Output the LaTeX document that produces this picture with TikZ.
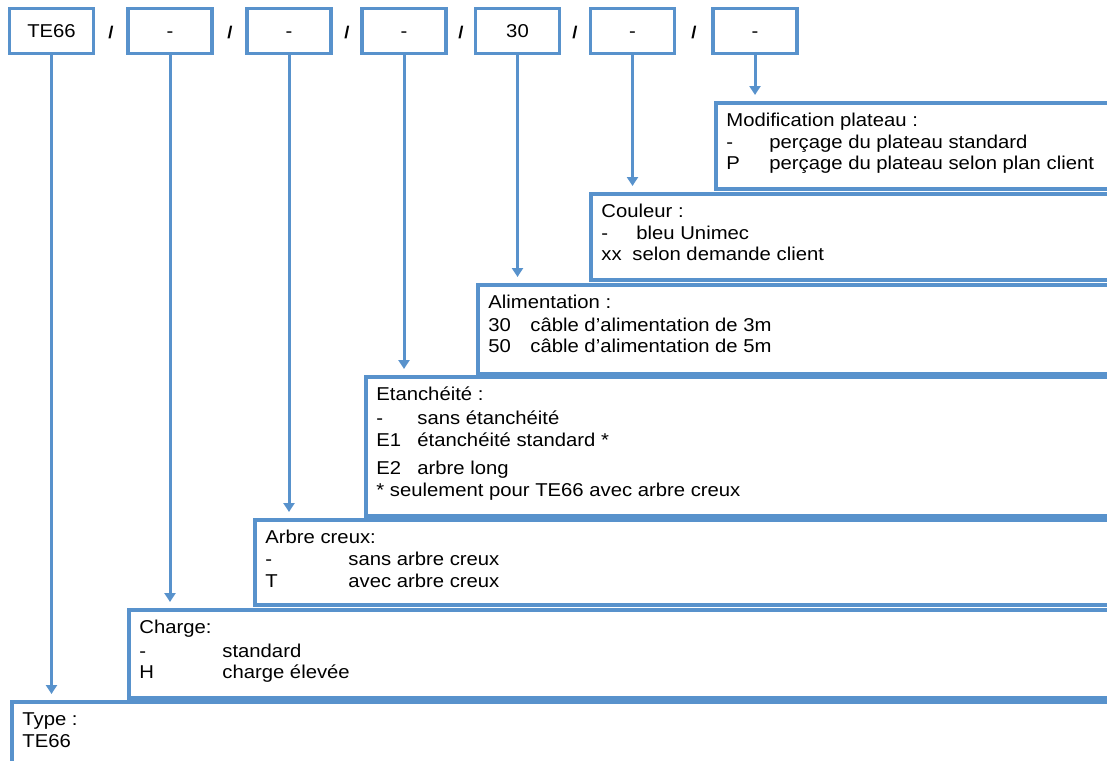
\documentclass[tikz,border=0pt]{standalone}
\usepackage{fontspec}
\setmainfont{Liberation Sans}[FakeStretch=1.09]
\usetikzlibrary{arrows.meta}

\definecolor{codeblue}{RGB}{88,146,204}
\newcommand{\optcode}[2][42pt]{\makebox[#1][l]{#2}}
\newcommand{\desctext}[2]{\parbox[t][#1][t]{1200pt}{\rule{0pt}{24pt}#2}}

\begin{document}
\begin{tikzpicture}[x=1pt, y=-1pt,
    font=\fontsize{18.6}{21.5}\selectfont,
    codebox/.style={draw=codeblue, line width=3.8pt, minimum width=84pt, minimum height=45pt, inner sep=0pt, text height=13.6pt, text depth=0pt},
    descbox/.style={draw=codeblue, line width=3.8pt, anchor=north west, inner xsep=10.5pt, inner ysep=0pt},
    sep/.style={anchor=base, font=\fontsize{17}{19}\selectfont\bfseries},
    link/.style={draw=codeblue, line width=3pt, -{Triangle[width=11pt,length=9pt]}, shorten >=6pt}]
    \useasboundingbox (0,0) rectangle (1107,760);
    \clip (0,0) rectangle (1107,760);

    % Code boxes
    \node[codebox] (cType) at (51.5,31) {TE66};
    \node[codebox] (cCharge) at (170,31) {-};
    \node[codebox] (cArbre) at (289,31) {-};
    \node[codebox] (cEtanch) at (404,31) {-};
    \node[codebox] (cAlim) at (517.5,31) {30};
    \node[codebox] (cCouleur) at (632.5,31) {-};
    \node[codebox] (cPlateau) at (755,31) {-};

    % Separators
    \node[sep] (s1) at (111,38) {/};
    \node[sep] (s2) at (230,38) {/};
    \node[sep] (s3) at (347,38) {/};
    \node[sep] (s4) at (461,38) {/};
    \node[sep] (s5) at (575,38) {/};
    \node[sep] (s6) at (694,38) {/};

    % Description boxes
    \node[descbox] (plateau) at (714,101) {\desctext{86pt}{Modification plateau :\\
        \optcode[43pt]{-}perçage du plateau standard\\
        \optcode[43pt]{P}perçage du plateau selon plan client}};
    \node[descbox] (couleur) at (589,192) {\desctext{86pt}{Couleur :\\
        \optcode[35pt]{-}bleu Unimec\\
        \optcode[31pt]{xx}selon demande client}};
    \node[descbox] (alim) at (476,283) {\desctext{89pt}{Alimentation :\\[1pt]
        \optcode{30}câble d’alimentation de 3m\\
        \optcode{50}câble d’alimentation de 5m}};
    \node[descbox] (etanch) at (364,375) {\desctext{139pt}{Etanchéité :\\[2.5pt]
        \optcode[41pt]{-}sans étanchéité\\[0.5pt]
        \optcode[41pt]{E1}étanchéité standard *\\[6pt]
        \optcode[41pt]{E2}arbre long\\[1pt]
        * seulement pour TE66 avec arbre creux}};
    \node[descbox] (arbre) at (253,518) {\desctext{85pt}{Arbre creux:\\
        \optcode[83pt]{-}sans arbre creux\\[1pt]
        \optcode[83pt]{T}avec arbre creux}};
    \node[descbox] (charge) at (127,608) {\desctext{88pt}{Charge:\\[2pt]
        \optcode[83pt]{-}standard\\
        \optcode[83pt]{H}charge élevée}};
    \node[descbox] (type) at (10,700) {\desctext{100pt}{Type :\\
        TE66}};

    % Links
    \draw[link] (cPlateau.south) -- (cPlateau.south |- plateau.north);
    \draw[link] (cCouleur.south) -- (cCouleur.south |- couleur.north);
    \draw[link] (cAlim.south) -- (cAlim.south |- alim.north);
    \draw[link] (cEtanch.south) -- (cEtanch.south |- etanch.north);
    \draw[link] (cArbre.south) -- (cArbre.south |- arbre.north);
    \draw[link] (cCharge.south) -- (cCharge.south |- charge.north);
    \draw[link] (cType.south) -- (cType.south |- type.north);
\end{tikzpicture}
\end{document}
